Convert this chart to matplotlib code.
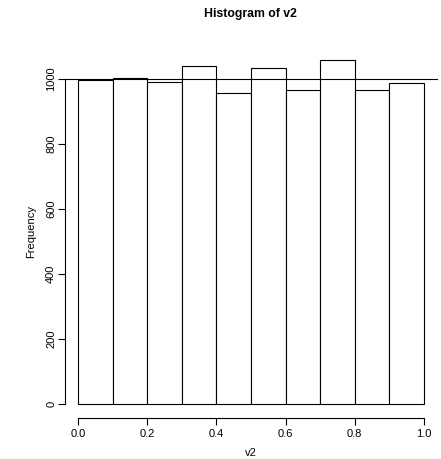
import numpy as np
import matplotlib.pyplot as plt

plt.rcParams['font.family'] = ['Liberation Sans', 'DejaVu Sans']

# histogram of v2: 10 bins over [0, 1]
bin_edges = [0.0, 0.1, 0.2, 0.3, 0.4, 0.5, 0.6, 0.7, 0.8, 0.9, 1.0]
counts = [998, 1004, 990, 1040, 957, 1034, 967, 1059, 966, 987]
x_ticks = [0.0, 0.2, 0.4, 0.6, 0.8, 1.0]
x_tick_labels = ['0.0', '0.2', '0.4', '0.6', '0.8', '1.0']
y_ticks = [0, 200, 400, 600, 800, 1000]
ref_line = 1000

W, H = 441, 459
fig = plt.figure(figsize=(W / 100, H / 100), dpi=100)
ax = fig.add_axes([64.5 / W, 41.3 / H, (437.5 - 64.5) / W, (413 - 41.3) / H])

left = np.array(bin_edges[:-1])
widths = np.diff(bin_edges)
ax.bar(left, counts, width=widths, align='edge', color='white',
       edgecolor='black', linewidth=0.8)
ax.axhline(ref_line, color='black', linewidth=0.8)

ymax = max(counts)
ax.set_xlim(-0.04, 1.04)
ax.set_ylim(-0.04 * ymax, 1.04 * ymax)

for s in ['top', 'right']:
    ax.spines[s].set_visible(False)
ax.spines['bottom'].set_bounds(0, 1)
ax.spines['left'].set_bounds(0, 1000)
ax.spines['bottom'].set_linewidth(0.8)
ax.spines['left'].set_linewidth(0.8)

ax.set_xticks(x_ticks)
ax.set_xticklabels(x_tick_labels)
ax.set_yticks(y_ticks)
ax.set_yticklabels([str(v) for v in y_ticks], rotation=90, va='center')
ax.tick_params(axis='both', length=5, width=0.8, labelsize=8)
ax.tick_params(axis='x', pad=3)
ax.tick_params(axis='y', pad=1)

fig.text(250 / W, 1 - 14 / H, 'Histogram of v2', ha='center', va='center',
         fontsize=8.8, fontweight='bold')
fig.text(251 / W, 1 - 453 / H, 'v2', ha='center', va='center', fontsize=8)
fig.text(31 / W, 1 - 231 / H, 'Frequency', ha='center', va='center',
         rotation=90, fontsize=8)

fig.savefig('out.png', dpi=100)
